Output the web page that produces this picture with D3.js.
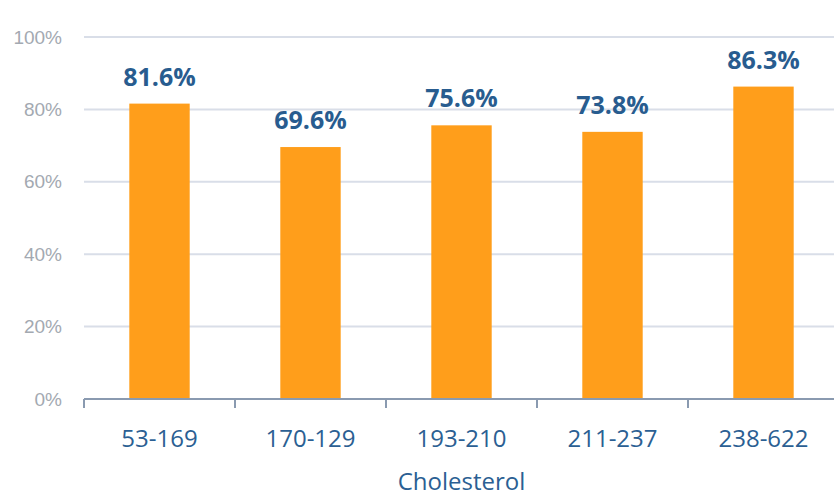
<!DOCTYPE html>
<html>
<head>
<meta charset="utf-8">
<script src="https://cdn.jsdelivr.net/npm/d3@7"></script>
<style>
  html, body { margin: 0; padding: 0; background: #fff; }
  svg { display: block; font-family: "Open Sans", "Noto Sans", sans-serif; }
</style>
</head>
<body>
<svg id="chart" width="834" height="496"></svg>
<script>
// Share of patients per cholesterol band
const categories = ["53-169", "170-129", "193-210", "211-237", "238-622"];
const values = [81.6, 69.6, 75.6, 73.8, 86.3];
const yTicks = [0, 20, 40, 60, 80, 100];
const xTitle = "Cholesterol";

const svg = d3.select("#chart");
const margin = { left: 84, top: 37, bottom: 97 };
const plotRight = 839;
const height = 496;

const x = d3.scaleBand()
  .domain(categories)
  .range([margin.left, plotRight])
  .paddingInner(0.6)
  .paddingOuter(0.3);

const y = d3.scaleLinear()
  .domain([0, 100])
  .range([height - margin.bottom, margin.top]);

// Horizontal gridlines
svg.append("g")
  .selectAll("line")
  .data(yTicks.filter(d => d > 0))
  .join("line")
  .attr("x1", margin.left)
  .attr("x2", 834)
  .attr("y1", d => y(d))
  .attr("y2", d => y(d))
  .attr("stroke", "#D9DEE8")
  .attr("stroke-width", 2);

// Y axis labels
const yAxis = d3.axisLeft(y)
  .tickValues(yTicks)
  .tickFormat(d => d + "%")
  .tickSize(0)
  .tickPadding(22);
const gy = svg.append("g")
  .attr("transform", `translate(${margin.left},0)`)
  .call(yAxis);
gy.select(".domain").remove();
gy.selectAll("text")
  .attr("fill", "#A3A9B1")
  .attr("font-size", 19);

// Bars
svg.append("g")
  .selectAll("rect")
  .data(values)
  .join("rect")
  .attr("x", (d, i) => x(categories[i]))
  .attr("width", x.bandwidth())
  .attr("y", d => y(d))
  .attr("height", d => y(0) - y(d))
  .attr("fill", "#FF9E1B");

// Value labels
svg.append("g")
  .selectAll("text")
  .data(values)
  .join("text")
  .attr("x", (d, i) => x(categories[i]) + x.bandwidth() / 2)
  .attr("y", d => y(d) - 18)
  .attr("text-anchor", "middle")
  .attr("fill", "#285C8F")
  .attr("font-size", 25)
  .attr("font-weight", 700)
  .text(d => d.toFixed(1) + "%");

// X axis with boundary ticks between categories
const xAxisG = svg.append("g")
  .attr("transform", `translate(0,${y(0)})`);
xAxisG.append("line")
  .attr("x1", margin.left)
  .attr("x2", 834)
  .attr("stroke", "#8A9AB0")
  .attr("stroke-width", 2);
const step = x.step();
const boundaries = d3.range(categories.length).map(i => margin.left + i * step);
xAxisG.selectAll("line.tick")
  .data(boundaries)
  .join("line")
  .attr("class", "tick")
  .attr("x1", d => d)
  .attr("x2", d => d)
  .attr("y1", 0)
  .attr("y2", 9)
  .attr("stroke", "#8A9AB0")
  .attr("stroke-width", 2);
xAxisG.selectAll("text")
  .data(categories)
  .join("text")
  .attr("x", d => x(d) + x.bandwidth() / 2)
  .attr("y", 48)
  .attr("text-anchor", "middle")
  .attr("fill", "#2B5F93")
  .attr("font-size", 24)
  .text(d => d);

// Axis title
svg.append("text")
  .attr("x", (margin.left + plotRight) / 2)
  .attr("y", 490)
  .attr("text-anchor", "middle")
  .attr("fill", "#2B5F93")
  .attr("font-size", 24)
  .text(xTitle);
</script>
</body>
</html>
